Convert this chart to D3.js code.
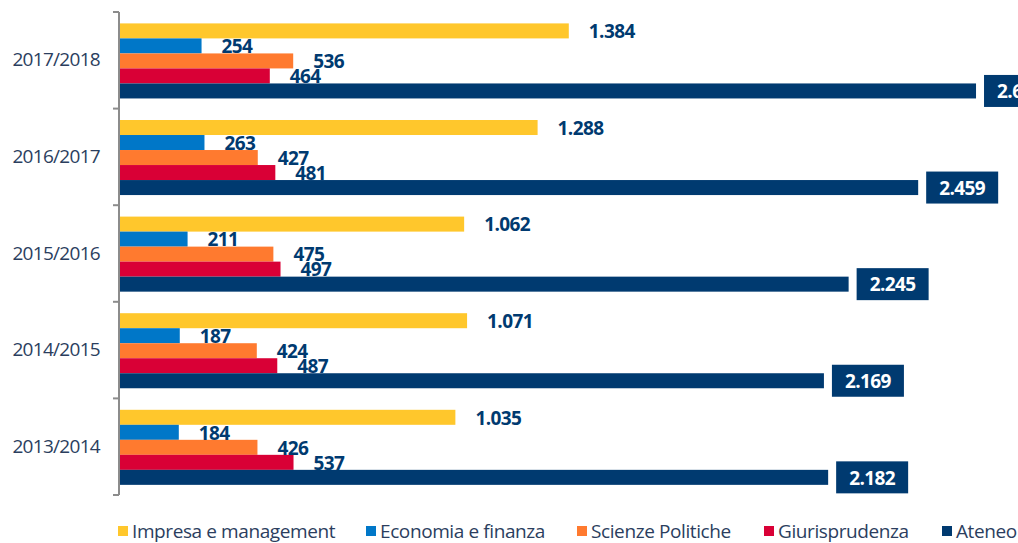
<!DOCTYPE html>
<html>
<head>
<meta charset="utf-8">
<script src="https://cdn.jsdelivr.net/npm/d3@7"></script>
<style>
  body { margin: 0; background: #fff; }
  svg { display: block; font-family: "Open Sans", sans-serif; }
</style>
</head>
<body>
<div class="chart"></div>
<script>
var width = 1018, height = 543;

var years = ['2017/2018', '2016/2017', '2015/2016', '2014/2015', '2013/2014'];
var series = ['Impresa e management', 'Economia e finanza', 'Scienze Politiche', 'Giurisprudenza', 'Ateneo'];
var colors = ['#ffc72c', '#0077c8', '#ff7a2f', '#d90036', '#003a70'];

// one array per series, same order as years
var impresa = [1384, 1288, 1062, 1071, 1035];
var economia = [254, 263, 211, 187, 184];
var scienze = [536, 427, 475, 424, 426];
var giuris = [464, 481, 497, 487, 537];
var ateneo = [2637, 2459, 2245, 2169, 2182];

var values = [impresa, economia, scienze, giuris, ateneo];

var it = d3.formatLocale({ decimal: ',', thousands: '.', grouping: [3], currency: ['€', ''] });
var fmt = it.format(',d');

var svg = d3.select('.chart').append('svg')
  .attr('width', width)
  .attr('height', height);

var x = d3.scaleLinear()
  .domain([0, 3000])
  .range([119, 119 + 975]);

var y = d3.scaleBand()
  .domain(years)
  .range([12, 495]);

var inner = d3.scaleBand()
  .domain(series)
  .range([y.bandwidth() * 0.118, y.bandwidth() * 0.895]);

// axis on the left, ticks between groups
var yAxis = d3.axisLeft(y).tickSize(0).tickPadding(19);
var ax = svg.append('g')
  .attr('transform', 'translate(119,0)')
  .call(yAxis);
ax.select('.domain').remove();
ax.selectAll('text')
  .style('font-size', '19px')
  .style('font-family', '"Open Sans", sans-serif')
  .attr('fill', '#2b3e5e')
  .attr('letter-spacing', '-0.7');

svg.append('line')
  .attr('x1', 119).attr('x2', 119)
  .attr('y1', y.range()[0]).attr('y2', y.range()[1])
  .attr('stroke', '#8c8c8c').attr('stroke-width', 2);

var edges = years.map(function (d) { return y(d); }).concat([y.range()[1]]);
svg.selectAll('.sep')
  .data(edges)
  .enter().append('line')
  .attr('x1', 113).attr('x2', 119)
  .attr('y1', function (d) { return d; })
  .attr('y2', function (d) { return d; })
  .attr('stroke', '#8c8c8c').attr('stroke-width', 2);

// flatten rows for drawing
var rows = [];
years.forEach(function (yr, i) {
  series.forEach(function (s, j) {
    rows.push({ year: yr, name: s, value: values[j][i], color: colors[j], last: j === series.length - 1 });
  });
});

svg.selectAll('.bar')
  .data(rows)
  .enter().append('rect')
  .attr('class', 'bar')
  .attr('x', x(0) + 1)
  .attr('y', function (d) { return y(d.year) + inner(d.name); })
  .attr('width', function (d) { return x(d.value) - x(0) - 1; })
  .attr('height', inner.bandwidth())
  .attr('fill', function (d) { return d.color; });

// plain labels
svg.selectAll('.lbl')
  .data(rows.filter(function (d) { return !d.last; }))
  .enter().append('text')
  .attr('class', 'lbl')
  .attr('x', function (d) { return x(d.value) + 20; })
  .attr('y', function (d) { return y(d.year) + inner(d.name) + inner.bandwidth() / 2; })
  .attr('dy', '0.38em')
  .attr('fill', '#003a70')
  .style('font-size', '19px')
  .style('font-weight', 'bold')
  .attr('letter-spacing', '-0.6')
  .text(function (d) { return fmt(d.value); });

// boxed labels for Ateneo
var boxed = svg.selectAll('.box')
  .data(rows.filter(function (d) { return d.last; }))
  .enter().append('g')
  .attr('transform', function (d) {
    return 'translate(' + (x(d.value) + 8) + ',' + (y(d.year) + inner(d.name) + inner.bandwidth() / 2) + ')';
  });
boxed.append('rect')
  .attr('x', 0).attr('y', -16)
  .attr('width', 72).attr('height', 32)
  .attr('fill', '#003a70');
boxed.append('text')
  .attr('x', 36)
  .attr('dy', '0.38em')
  .attr('text-anchor', 'middle')
  .attr('fill', '#fff')
  .style('font-size', '19px')
  .style('font-weight', 'bold')
  .attr('letter-spacing', '-0.6')
  .text(function (d) { return fmt(d.value); });

// legend
var legX = [118, 366, 577, 764, 942];
var leg = svg.selectAll('.leg')
  .data(series)
  .enter().append('g')
  .attr('transform', function (d, i) { return 'translate(' + legX[i] + ',526)'; });
leg.append('rect')
  .attr('width', 10).attr('height', 10)
  .attr('fill', function (d, i) { return colors[i]; });
leg.append('text')
  .attr('x', 14).attr('y', 5)
  .attr('dy', '0.38em')
  .attr('fill', '#2b3e5e')
  .style('font-size', '19px')
  .attr('letter-spacing', '-0.4')
  .text(function (d) { return d; });
</script>
</body>
</html>
